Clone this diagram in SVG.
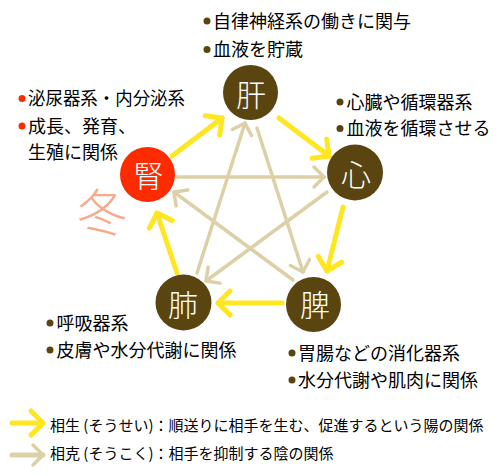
<svg xmlns="http://www.w3.org/2000/svg" width="499" height="476" viewBox="0 0 499 476">
<defs>
<style>
.t{font-family:"Noto Sans CJK JP","Noto Sans",sans-serif;font-size:18px;fill:#000}
.lg{font-family:"Noto Sans CJK JP","Noto Sans",sans-serif;font-size:15px;fill:#000}
.lbl{font-family:"Noto Sans CJK JP",sans-serif;font-size:30px;font-weight:300;fill:#fff;text-anchor:middle}
.ye{stroke:#FFE620;stroke-width:5;fill:none;stroke-linecap:round;marker-end:url(#my)}
.tn{stroke:#DDCFA6;stroke-width:3.5;fill:none;stroke-linecap:round;marker-end:url(#mt)}
.brown{fill:#5A4511}
.red{fill:#FF2B00}
</style>
<marker id="my" markerUnits="userSpaceOnUse" orient="auto" markerWidth="40" markerHeight="40" viewBox="-20 -20 40 40" refX="0" refY="0" overflow="visible">
<path d="M-12,-12 L0,0 L-12,12" fill="none" stroke="#FFE620" stroke-width="5" stroke-linecap="round" stroke-linejoin="round"/>
</marker>
<marker id="mt" markerUnits="userSpaceOnUse" orient="auto" markerWidth="40" markerHeight="40" viewBox="-20 -20 40 40" refX="0" refY="0" overflow="visible">
<path d="M-10,-10 L0,0 L-10,10" fill="none" stroke="#DDCFA6" stroke-width="3.5" stroke-linecap="round" stroke-linejoin="round"/>
</marker>
</defs>
<rect width="499" height="476" fill="#fff"/>

<g id="connectors">
<line class="tn" x1="177" y1="177" x2="324" y2="177"/>
<line class="tn" x1="327" y1="192" x2="206" y2="281"/>
<line class="tn" x1="197" y1="273" x2="245" y2="123"/>
<line class="tn" x1="257" y1="128" x2="303" y2="272"/>
<line class="tn" x1="293" y1="280" x2="174" y2="192"/>
<line class="ye" x1="172" y1="156" x2="222" y2="118"/>
<line class="ye" x1="279" y1="118" x2="329" y2="156"/>
<line class="ye" x1="343" y1="207" x2="327" y2="271"/>
<line class="ye" x1="282" y1="303" x2="218" y2="303"/>
<line class="ye" x1="177" y1="273" x2="157" y2="213"/>
</g>

<g id="node-kan">
<circle class="brown" cx="250.5" cy="92.5" r="27.5"/>
<text class="lbl" x="251" y="106">肝</text>
</g>
<g id="node-shin">
<circle class="brown" cx="355" cy="172.5" r="28"/>
<text class="lbl" x="356" y="186">心</text>
</g>
<g id="node-hi">
<circle class="brown" cx="313.5" cy="304.5" r="27.5"/>
<text class="lbl" x="315" y="316">脾</text>
</g>
<g id="node-hai">
<circle class="brown" cx="183.5" cy="302.5" r="28"/>
<text class="lbl" x="183" y="316">肺</text>
</g>
<g id="node-jin">
<circle class="red" cx="147.5" cy="174.5" r="27.5"/>
<text class="lbl" x="148.5" y="187">腎</text>
</g>

<g id="season">
<text x="102" y="231" font-family="Noto Sans CJK JP,sans-serif" font-size="50" font-weight="300" fill="#F9A88C" text-anchor="middle">冬</text>
</g>

<g id="desc-kan">
<circle class="brown" cx="207" cy="21" r="3.5"/>
<circle class="brown" cx="207" cy="49.5" r="3.5"/>
<text class="t" x="213" y="27.5">自律神経系の働きに関与</text>
<text class="t" x="213" y="56">血液を貯蔵</text>
</g>
<g id="desc-shin">
<circle class="brown" cx="340" cy="102" r="3.5"/>
<circle class="brown" cx="340" cy="128.5" r="3.5"/>
<text class="t" x="346.5" y="108.5">心臓や循環器系</text>
<text class="t" x="346.5" y="135">血液を循環させる</text>
</g>
<g id="desc-jin">
<circle class="red" cx="22" cy="98.5" r="3.5"/>
<circle class="red" cx="22" cy="126" r="3.5"/>
<text class="t" x="28" y="105" textLength="157" lengthAdjust="spacingAndGlyphs">泌尿器系・内分泌系</text>
<text class="t" x="28" y="133">成長、発育、</text>
<text class="t" x="28" y="159">生殖に関係</text>
</g>
<g id="desc-hai">
<circle class="brown" cx="50" cy="323" r="3.5"/>
<circle class="brown" cx="50" cy="350" r="3.5"/>
<text class="t" x="56.5" y="329.5">呼吸器系</text>
<text class="t" x="56.5" y="357">皮膚や水分代謝に関係</text>
</g>
<g id="desc-hi">
<circle class="brown" cx="292" cy="353" r="3.5"/>
<circle class="brown" cx="292" cy="380" r="3.5"/>
<text class="t" x="298" y="359.5">胃腸などの消化器系</text>
<text class="t" x="298" y="387">水分代謝や肌肉に関係</text>
</g>

<g id="legend">
<line class="ye" x1="12" y1="423" x2="43" y2="423"/>
<line class="tn" x1="12" y1="455" x2="43" y2="455" style="stroke-width:5"/>
<text class="lg" x="50" y="430.5">相生 (そうせい)：順送りに相手を生む、促進するという陽の関係</text>
<text class="lg" x="50" y="458.5">相克 (そうこく)：相手を抑制する陰の関係</text>
</g>
</svg>
